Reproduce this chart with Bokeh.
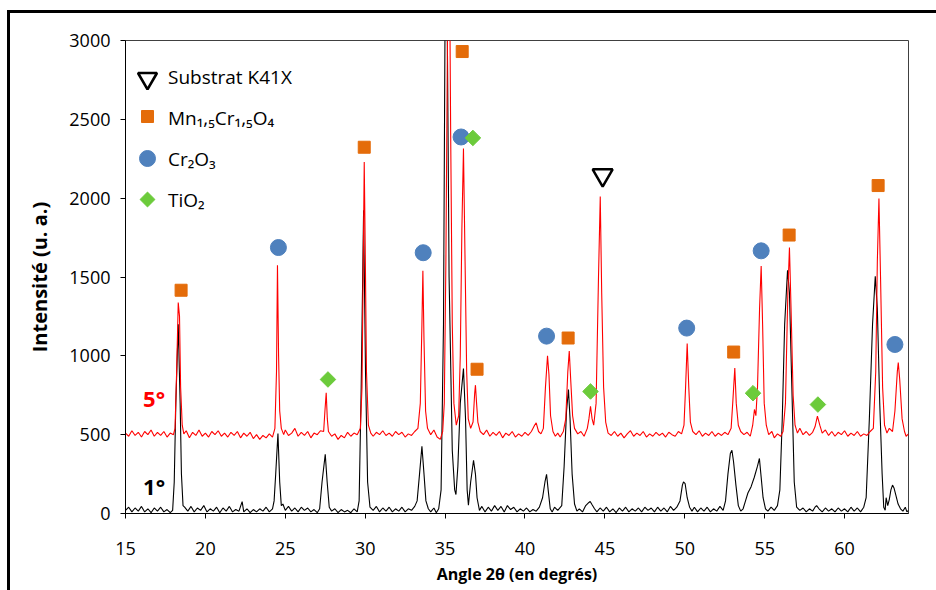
from bokeh.plotting import figure
from bokeh.models import Label, Legend, LegendItem, FixedTicker, Range1d, ColumnDataSource
from bokeh.embed import file_html
from bokeh.resources import INLINE

# ---------------- data ----------------
x_ticks = [15, 20, 25, 30, 35, 40, 45, 50, 55, 60]
y_ticks = [0, 500, 1000, 1500, 2000, 2500, 3000]

# 5° pattern (red), as (2theta, intensity)
red_points = [
    (15.0, 510), (15.2, 490), (15.4, 525), (15.6, 495), (15.8, 515), (16.0, 485), (16.2, 520), (16.4, 500),
    (16.6, 530), (16.8, 490), (17.0, 515), (17.2, 495), (17.4, 520), (17.6, 485), (17.8, 510), (18.0, 500),
    (18.1, 540), (18.2, 900), (18.3, 1338), (18.38, 1250), (18.45, 800), (18.55, 560), (18.65, 505), (18.8, 525),
    (19.0, 480), (19.2, 515), (19.4, 495), (19.6, 530), (19.8, 490), (20.0, 510), (20.2, 485), (20.4, 520),
    (20.6, 500), (20.8, 525), (21.0, 490), (21.2, 510), (21.4, 485), (21.6, 515), (21.8, 495), (22.0, 520),
    (22.2, 480), (22.4, 510), (22.6, 490), (22.8, 515), (23.0, 475), (23.2, 500), (23.4, 470), (23.6, 495),
    (23.8, 480), (24.0, 505), (24.2, 485), (24.35, 540), (24.45, 900), (24.51, 1575), (24.58, 1000), (24.65, 650),
    (24.75, 540), (24.9, 500), (25.0, 530), (25.2, 495), (25.4, 510), (25.6, 540), (25.8, 490), (26.0, 515),
    (26.2, 495), (26.4, 520), (26.6, 480), (26.8, 510), (27.0, 500), (27.2, 525), (27.4, 520), (27.48, 650),
    (27.56, 765), (27.63, 600), (27.7, 520), (27.9, 490), (28.1, 505), (28.3, 470), (28.5, 495), (28.7, 480),
    (28.9, 515), (29.1, 490), (29.3, 510), (29.5, 500), (29.7, 540), (29.8, 800), (29.88, 1600), (29.94, 2230),
    (30.0, 1700), (30.08, 900), (30.2, 560), (30.35, 510), (30.5, 490), (30.7, 515), (30.9, 500), (31.1, 525),
    (31.3, 495), (31.5, 510), (31.7, 490), (31.9, 520), (32.1, 500), (32.3, 515), (32.5, 485), (32.7, 505),
    (32.9, 495), (33.1, 520), (33.3, 540), (33.45, 700), (33.55, 1200), (33.61, 1539), (33.68, 1100), (33.78, 650),
    (33.9, 540), (34.1, 500), (34.3, 530), (34.5, 485), (34.7, 470), (34.85, 520), (34.95, 700), (35.05, 1600),
    (35.15, 3000), (35.2, 3600), (35.27, 3600), (35.35, 2400), (35.45, 1200), (35.55, 700), (35.7, 560), (35.85, 620),
    (35.95, 1000), (36.05, 1800), (36.15, 2315), (36.25, 1600), (36.35, 900), (36.45, 600), (36.6, 540), (36.75, 580),
    (36.85, 760), (36.9, 814), (36.97, 700), (37.05, 580), (37.2, 520), (37.4, 500), (37.6, 530), (37.8, 490),
    (38.0, 515), (38.2, 495), (38.4, 520), (38.6, 480), (38.8, 510), (39.0, 495), (39.2, 520), (39.4, 485),
    (39.6, 505), (39.8, 490), (40.0, 515), (40.2, 495), (40.4, 520), (40.6, 560), (40.7, 575), (40.85, 520),
    (41.0, 505), (41.15, 540), (41.28, 800), (41.41, 1000), (41.5, 880), (41.6, 620), (41.75, 520), (41.9, 490),
    (42.05, 510), (42.2, 485), (42.4, 520), (42.55, 600), (42.68, 900), (42.77, 1031), (42.86, 850), (42.98, 620),
    (43.1, 540), (43.3, 505), (43.5, 520), (43.7, 490), (43.9, 540), (44.0, 600), (44.1, 680), (44.2, 600),
    (44.3, 560), (44.45, 700), (44.6, 1500), (44.71, 2011), (44.8, 1400), (44.92, 800), (45.05, 580), (45.2, 510),
    (45.4, 495), (45.6, 520), (45.8, 490), (46.0, 510), (46.2, 480), (46.4, 505), (46.6, 525), (46.8, 490),
    (47.0, 510), (47.2, 495), (47.4, 520), (47.6, 485), (47.8, 505), (48.0, 490), (48.2, 515), (48.4, 495),
    (48.6, 510), (48.8, 485), (49.0, 515), (49.2, 500), (49.4, 490), (49.6, 520), (49.8, 505), (49.95, 560),
    (50.05, 800), (50.15, 1078), (50.25, 800), (50.35, 580), (50.5, 520), (50.7, 500), (50.9, 525), (51.1, 490),
    (51.3, 510), (51.5, 495), (51.7, 520), (51.9, 490), (52.1, 510), (52.3, 495), (52.5, 515), (52.7, 500),
    (52.9, 540), (53.0, 700), (53.13, 922), (53.22, 700), (53.35, 560), (53.5, 520), (53.7, 500), (53.9, 515),
    (54.1, 490), (54.25, 560), (54.36, 660), (54.45, 620), (54.55, 800), (54.68, 1300), (54.78, 1570), (54.87, 1200),
    (54.97, 700), (55.1, 560), (55.25, 500), (55.45, 520), (55.6, 480), (55.8, 505), (56.0, 490), (56.15, 520),
    (56.3, 700), (56.45, 1400), (56.55, 1687), (56.65, 1300), (56.78, 750), (56.9, 560), (57.05, 510), (57.2, 540),
    (57.4, 500), (57.6, 520), (57.8, 495), (58.0, 515), (58.15, 550), (58.3, 617), (58.45, 560), (58.6, 510),
    (58.8, 530), (59.0, 495), (59.2, 520), (59.4, 490), (59.6, 515), (59.8, 500), (60.0, 525), (60.2, 490),
    (60.4, 510), (60.6, 495), (60.8, 520), (61.0, 490), (61.2, 505), (61.4, 495), (61.6, 520), (61.8, 540),
    (61.95, 900), (62.05, 1600), (62.15, 1998), (62.25, 1500), (62.38, 800), (62.5, 560), (62.65, 510), (62.8, 540),
    (63.0, 520), (63.15, 650), (63.3, 900), (63.36, 958), (63.45, 850), (63.6, 600), (63.75, 520), (63.85, 490),
    (64.0, 505),
]

# 1° pattern (black)
black_points = [
    (15.0, 20), (15.2, 40), (15.4, 10), (15.6, 35), (15.8, 15), (16.0, 45), (16.2, 10), (16.4, 30),
    (16.6, 5), (16.8, 35), (17.0, 15), (17.2, 40), (17.4, 10), (17.6, 25), (17.8, 5), (17.95, 20),
    (18.05, 200), (18.15, 700), (18.3, 1200), (18.42, 700), (18.5, 250), (18.6, 50), (18.7, 40), (18.9, 15),
    (19.1, 45), (19.3, 10), (19.5, 35), (19.7, 20), (19.9, 50), (20.1, 10), (20.3, 30), (20.5, 15),
    (20.7, 40), (20.9, 5), (21.1, 35), (21.3, 15), (21.5, 45), (21.7, 10), (21.9, 25), (22.1, 15),
    (22.3, 75), (22.4, 10), (22.6, 30), (22.8, 5), (23.0, 25), (23.2, 10), (23.4, 30), (23.6, 15),
    (23.8, 40), (24.0, 10), (24.2, 30), (24.3, 80), (24.4, 250), (24.54, 507), (24.65, 200), (24.75, 50),
    (24.85, 60), (25.0, 20), (25.2, 45), (25.4, 15), (25.6, 35), (25.8, 10), (26.0, 40), (26.2, 20),
    (26.4, 35), (26.6, 10), (26.8, 25), (27.0, 5), (27.15, 30), (27.3, 200), (27.5, 376), (27.62, 200),
    (27.75, 40), (27.9, 15), (28.1, 30), (28.3, 5), (28.5, 25), (28.7, 10), (28.9, 20), (29.1, 5),
    (29.3, 30), (29.5, 10), (29.62, 80), (29.75, 800), (29.9, 1924), (30.02, 900), (30.15, 200), (30.3, 40),
    (30.5, 20), (30.7, 45), (30.9, 10), (31.1, 35), (31.3, 15), (31.5, 40), (31.7, 10), (31.9, 30),
    (32.1, 15), (32.3, 40), (32.5, 10), (32.7, 30), (32.9, 20), (33.1, 45), (33.25, 80), (33.4, 250),
    (33.55, 427), (33.68, 250), (33.8, 80), (33.95, 30), (34.1, 10), (34.3, 35), (34.45, 5), (34.6, 30),
    (34.75, 150), (34.9, 1200), (35.02, 3600), (35.1, 3600), (35.25, 1500), (35.45, 400), (35.6, 150), (35.68, 120),
    (35.8, 300), (35.95, 700), (36.15, 920), (36.28, 600), (36.38, 150), (36.46, 53), (36.6, 200), (36.78, 338),
    (36.9, 250), (37.0, 100), (37.15, 20), (37.3, 45), (37.5, 10), (37.7, 40), (37.9, 15), (38.1, 50),
    (38.3, 20), (38.5, 45), (38.7, 10), (38.9, 50), (39.1, 25), (39.3, 40), (39.5, 10), (39.7, 30),
    (39.9, 15), (40.1, 35), (40.3, 10), (40.5, 25), (40.7, 15), (40.9, 40), (41.1, 100), (41.25, 200),
    (41.35, 249), (41.45, 150), (41.58, 30), (41.7, 10), (41.85, 40), (42.05, 20), (42.3, 50), (42.45, 300),
    (42.6, 650), (42.72, 786), (42.82, 600), (42.95, 250), (43.1, 60), (43.25, 15), (43.4, 30), (43.6, 10),
    (43.8, 50), (44.0, 70), (44.08, 76), (44.2, 55), (44.35, 30), (44.5, 10), (44.7, 35), (44.9, 15),
    (45.1, 40), (45.3, 10), (45.5, 30), (45.7, 5), (45.9, 35), (46.1, 15), (46.3, 40), (46.5, 10),
    (46.7, 30), (46.9, 15), (47.1, 35), (47.3, 10), (47.5, 40), (47.7, 20), (47.9, 35), (48.1, 10),
    (48.3, 40), (48.5, 15), (48.7, 35), (48.9, 10), (49.1, 45), (49.3, 20), (49.5, 40), (49.7, 80),
    (49.85, 180), (49.92, 200), (50.02, 190), (50.15, 100), (50.3, 40), (50.45, 15), (50.6, 40), (50.8, 10),
    (51.0, 35), (51.2, 15), (51.4, 40), (51.6, 10), (51.8, 30), (52.0, 15), (52.2, 45), (52.4, 20),
    (52.55, 80), (52.7, 250), (52.85, 380), (52.95, 401), (53.05, 330), (53.2, 180), (53.35, 50), (53.5, 15),
    (53.65, 30), (53.8, 80), (53.95, 130), (54.15, 170), (54.35, 230), (54.55, 300), (54.67, 349), (54.78, 230),
    (54.9, 100), (55.05, 30), (55.2, 15), (55.4, 40), (55.6, 20), (55.8, 50), (55.95, 150), (56.1, 600),
    (56.25, 1200), (56.43, 1543), (56.55, 1400), (56.7, 800), (56.85, 200), (57.0, 40), (57.2, 20), (57.4, 35),
    (57.6, 10), (57.8, 30), (58.0, 15), (58.15, 40), (58.25, 50), (58.4, 30), (58.6, 10), (58.8, 35),
    (59.0, 15), (59.2, 30), (59.4, 10), (59.6, 35), (59.8, 15), (60.0, 30), (60.2, 10), (60.4, 40),
    (60.6, 15), (60.8, 35), (61.0, 10), (61.2, 40), (61.35, 100), (61.55, 600), (61.75, 1200), (61.92, 1505),
    (62.05, 1300), (62.2, 700), (62.35, 250), (62.45, 40), (62.54, 21), (62.6, 100), (62.7, 50), (62.8, 90),
    (62.9, 150), (63.0, 180), (63.1, 160), (63.2, 120), (63.35, 60), (63.5, 30), (63.65, 15), (63.8, 40),
    (63.9, 10), (64.0, 20),
]

# phase markers
substrat_x = [44.86]
substrat_y = [2146]
mncr_x = [18.48, 29.94, 36.07, 37.0, 42.7, 53.06, 56.53, 62.1]
mncr_y = [1416, 2323, 2930, 915, 1113, 1024, 1766, 2080]
cr2o3_x = [24.57, 33.63, 36.0, 41.35, 50.12, 54.78, 63.15]
cr2o3_y = [1687, 1654, 2388, 1125, 1176, 1666, 1072]
tio2_x = [27.67, 36.74, 44.1, 54.27, 58.33]
tio2_y = [850, 2382, 774, 763, 691]

legend_labels = ["Substrat K41X", "Mn\u2081,\u2085Cr\u2081,\u2085O\u2084", "Cr\u2082O\u2083", "TiO\u2082"]

# ---------------- figure ----------------
FONT = "Open Sans"
ORANGE = "#E46C0A"
BLUE = "#4F81BD"
GREEN = "#6CCB3B"
FW, FH = 783, 473

p = figure(
    frame_width=FW, frame_height=FH,
    x_range=Range1d(15, 64), y_range=Range1d(0, 3000),
    output_backend="svg", toolbar_location=None,
    min_border_left=115, min_border_right=28, min_border_top=27, min_border_bottom=77,
    background_fill_color="white", border_fill_color="white",
)
# pixel ranges over the frame, used only to place the legend keys
p.extra_x_ranges = {"px": Range1d(0, FW)}
p.extra_y_ranges = {"px": Range1d(0, FH)}

p.styles = {"border-top": "3px solid black", "border-left": "3px solid black",
            "margin-left": "7px", "margin-top": "10px"}
p.grid.visible = False
p.outline_line_color = "#404040"
p.outline_line_width = 1

for ax in (p.xaxis[0], p.yaxis[0]):
    ax.axis_line_color = "black"
    ax.axis_line_width = 1
    ax.major_tick_line_color = "black"
    ax.major_tick_out = 5
    ax.major_tick_in = 0
    ax.minor_tick_line_color = None
    ax.major_label_text_font = FONT
    ax.major_label_text_font_size = "18px"
    ax.major_label_text_color = "black"
    ax.axis_label_text_font = FONT
    ax.axis_label_text_font_style = "bold"
    ax.axis_label_text_color = "black"

p.xaxis.ticker = FixedTicker(ticks=x_ticks)
p.yaxis.ticker = FixedTicker(ticks=y_ticks)
p.xaxis.major_label_standoff = 23
p.yaxis.major_label_standoff = 10
p.xaxis.axis_label = "Angle 2\u03b8 (en degr\u00e9s)"
p.yaxis.axis_label = "Intensit\u00e9 (u. a.)"
p.xaxis.axis_label_text_font_size = "16px"
p.yaxis.axis_label_text_font_size = "20px"
p.xaxis.axis_label_standoff = 5
p.yaxis.axis_label_standoff = 13

black_src = ColumnDataSource(dict(x=[a for a, b in black_points], y=[b for a, b in black_points]))
red_src = ColumnDataSource(dict(x=[a for a, b in red_points], y=[b for a, b in red_points]))
p.line("x", "y", source=black_src, line_color="black", line_width=1.1)
p.line("x", "y", source=red_src, line_color="#FF0000", line_width=1.1)

p.scatter(substrat_x, substrat_y, marker="inverted_triangle", size=20,
          fill_alpha=0, line_color="black", line_width=2.5)
p.scatter(mncr_x, mncr_y, marker="square", size=12, fill_color=ORANGE, line_color=ORANGE)
p.scatter(cr2o3_x, cr2o3_y, marker="circle", size=16, fill_color=BLUE, line_color=BLUE)
p.scatter(tio2_x, tio2_y, marker="square", angle=0.7854, size=11,
          fill_color=GREEN, line_color=GREEN)

# legend keys (drawn in frame pixel space so the diamond keeps its 45° angle)
p.scatter([22], [435], x_range_name="px", y_range_name="px", marker="inverted_triangle", size=19,
          fill_alpha=0, line_color="black", line_width=2.6)
p.scatter([22], [397], x_range_name="px", y_range_name="px", marker="square", size=12,
          fill_color=ORANGE, line_color=ORANGE)
p.scatter([22], [355], x_range_name="px", y_range_name="px", marker="circle", size=16,
          fill_color=BLUE, line_color=BLUE)
p.scatter([22], [314], x_range_name="px", y_range_name="px", marker="square", angle=0.7854, size=10.5,
          fill_color=GREEN, line_color=GREEN)

# legend texts (keys above; the legend's own glyphs are left blank)
blank = [p.scatter([], [], marker="circle", fill_alpha=0, line_alpha=0) for _ in legend_labels]
legend = Legend(
    items=[LegendItem(label=lab, renderers=[r]) for lab, r in zip(legend_labels, blank)],
    location=(0, 290), glyph_width=40, glyph_height=41, label_height=41, spacing=0,
    padding=3, margin=0, label_standoff=0,
    border_line_alpha=0, background_fill_alpha=0,
    label_text_font=FONT, label_text_font_size="19px", label_text_color="black",
)
p.add_layout(legend)

p.add_layout(Label(x=16.1, y=731, text="5\u00b0", text_font=FONT, text_font_size="22px",
                   text_font_style="bold", text_color="#FF0000", text_baseline="middle"))
p.add_layout(Label(x=16.1, y=173, text="1\u00b0", text_font=FONT, text_font_size="22px",
                   text_font_style="bold", text_color="black", text_baseline="middle"))

open("out.html", "w").write(file_html(p, INLINE))
